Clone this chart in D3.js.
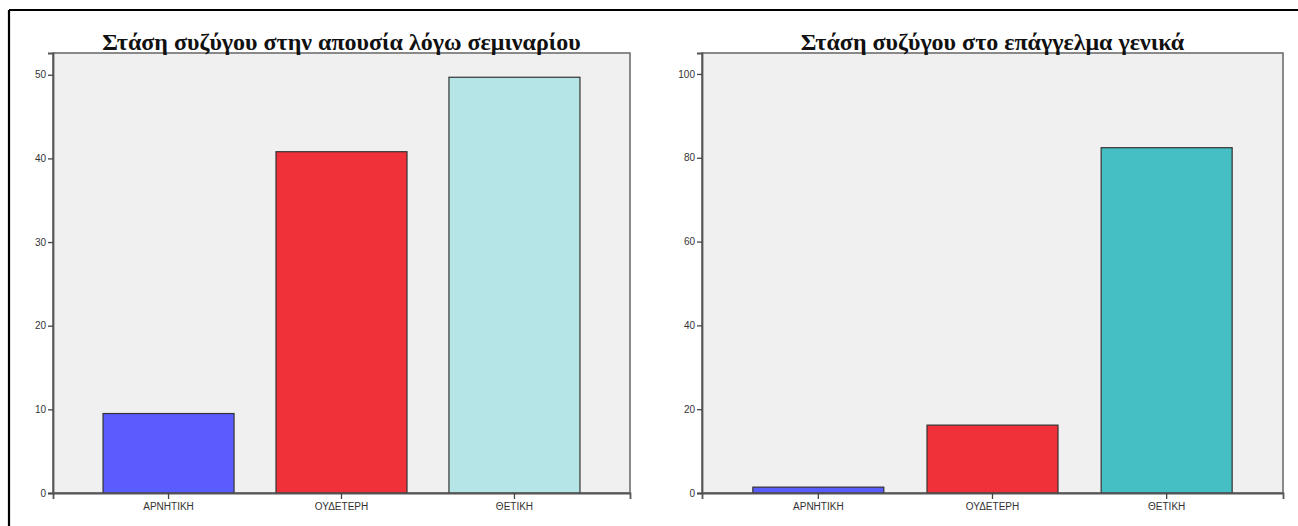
<!DOCTYPE html>
<html><head><meta charset="utf-8">
<script src="https://cdn.jsdelivr.net/npm/d3@7"></script>
<style>body{margin:0;background:#fff;} svg{display:block;}</style>
</head><body>
<svg id="c" width="1298" height="526"></svg>
<script>
const categories = ["ΑΡΝΗΤΙΚΗ", "ΟΥΔΕΤΕΡΗ", "ΘΕΤΙΚΗ"];
const titleLeft = "Στάση συζύγου στην απουσία λόγω σεμιναρίου";
const titleRight = "Στάση συζύγου στο επάγγελμα γενικά";
const valuesLeft = [9.5, 40.8, 49.7];
const valuesRight = [1.4, 16.2, 82.4];
const ticksLeft = [0, 10, 20, 30, 40, 50];
const ticksRight = [0, 20, 40, 60, 80, 100];
const colorsLeft = ["#5b5cfd", "#f0313a", "#b6e5e7"];
const colorsRight = ["#5b5cfd", "#f0313a", "#45bfc3"];

const svg = d3.select("#c");
// outer frame (left and top edges)
svg.append("line").attr("x1", 9).attr("x2", 1298).attr("y1", 10).attr("y2", 10).attr("stroke", "#000").attr("stroke-width", 2.2);
svg.append("line").attr("x1", 9).attr("x2", 9).attr("y1", 10).attr("y2", 526).attr("stroke", "#000").attr("stroke-width", 2.2);

function panel(opt) {
  const {x0, x1, top, bottom, max, values, ticks, colors, title, barW} = opt;
  const g = svg.append("g");
  const x = d3.scaleBand().domain(categories).range([x0, x1]).paddingInner(0).paddingOuter(0.168);
  const y = d3.scaleLinear().domain([0, max]).range([bottom, top]);
  g.append("rect").attr("x", x0).attr("y", top).attr("width", x1 - x0).attr("height", bottom - top)
    .attr("fill", "#f0f0f0").attr("stroke", "#666").attr("stroke-width", 1.5);
  g.selectAll("rect.bar").data(values).join("rect").attr("class", "bar")
    .attr("x", (d, i) => x(categories[i]) + (x.bandwidth() - barW) / 2)
    .attr("width", barW)
    .attr("y", d => y(d)).attr("height", d => y(0) - y(d))
    .attr("fill", (d, i) => colors[i]).attr("stroke", "#333").attr("stroke-width", 1.2);
  const ya = d3.axisLeft(y).tickValues(ticks).tickSize(5).tickPadding(2).tickFormat(d3.format("d"));
  const yg = g.append("g").attr("transform", `translate(${x0},0)`).call(ya);
  yg.select(".domain").attr("stroke", "#555").attr("stroke-width", 1.8);
  yg.selectAll(".tick line").attr("stroke", "#444").attr("stroke-width", 1.3);
  yg.selectAll("text").attr("font-family", "Liberation Sans, Arial, sans-serif").attr("font-size", 10).attr("fill", "#333");
  const xa = d3.axisBottom(x).tickSize(6).tickPadding(4);
  const xg = g.append("g").attr("transform", `translate(0,${bottom})`).call(xa);
  xg.select(".domain").attr("stroke", "#555").attr("stroke-width", 1.8);
  xg.selectAll(".tick line").attr("stroke", "#444").attr("stroke-width", 1.3);
  xg.selectAll("text").attr("font-family", "Liberation Sans, Arial, sans-serif").attr("font-size", 10).attr("fill", "#333");
  g.append("text").attr("x", (x0 + x1) / 2).attr("y", top - 3).attr("text-anchor", "middle")
    .attr("font-family", "Liberation Serif, Times New Roman, serif").attr("font-weight", "bold")
    .attr("font-size", 24).attr("fill", "#111").text(title);
}

panel({x0: 53, x1: 630, top: 53, bottom: 493, max: 52.6, values: valuesLeft, ticks: ticksLeft, colors: colorsLeft, title: titleLeft, barW: 131});
panel({x0: 702, x1: 1283, top: 53, bottom: 493, max: 105, values: valuesRight, ticks: ticksRight, colors: colorsRight, title: titleRight, barW: 131});
</script>
</body></html>
